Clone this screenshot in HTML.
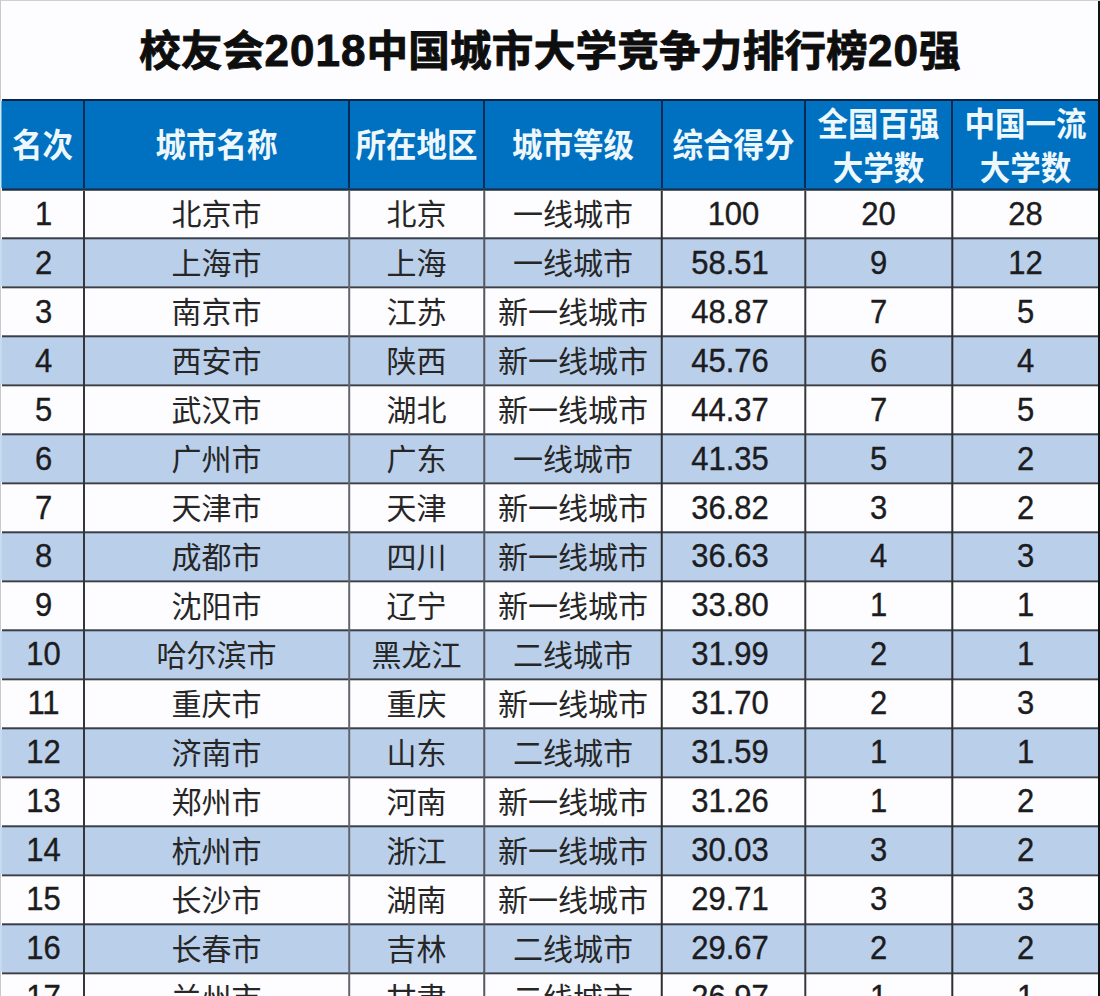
<!DOCTYPE html>
<html lang="zh-CN"><head><meta charset="utf-8"><title>校友会2018中国城市大学竞争力排行榜20强</title><style>
html,body{margin:0;padding:0}
body{width:1100px;height:996px;overflow:hidden;position:relative;background:#fdfcfe;font-family:"Liberation Sans","Noto Sans CJK SC",sans-serif}
div{position:absolute;box-sizing:border-box}
.w{left:0;top:0;width:1100px;height:996px;overflow:hidden}
.t{left:0;width:1100px;top:20px;height:60px;line-height:60px;text-align:center;font-family:"Liberation Sans","Noto Sans CJK SC",sans-serif;font-weight:700;font-size:41.5px;color:#0e0e0e;letter-spacing:0.3px;white-space:nowrap;-webkit-text-stroke:0.9px #0e0e0e}
.h{background:#0070c0}
.lb{background:#bacfea}
.hl{height:2px;background:#383e4a}
.vl{width:2px;background:#383e4a}
.c{display:flex;align-items:center;justify-content:center;white-space:nowrap;font-size:30px;color:#262626;font-family:"Liberation Sans","Noto Sans CJK SC",sans-serif;font-weight:400}
.hc{display:flex;align-items:center;justify-content:center;text-align:center;white-space:nowrap;font-size:30.5px;color:#eef8fc;font-weight:700;font-family:"Liberation Sans","Noto Sans CJK SC",sans-serif;line-height:40px}
.c span,.hc span{position:relative}
.d{font-size:44px;letter-spacing:1px;font-weight:700}
.n{font-size:31px;color:#1c1c1e;-webkit-text-stroke:0.35px #1c1c1e}
.dec{padding-right:7px}
.n span{display:inline-block;transform:scale(1,1.05)}
.hc span{display:inline-block;transform:scaleY(1.09)}
</style></head><body><div class="w">
<div style="left:0;top:0;width:1100px;height:1px;background:#d0d0d4"></div>
<div style="left:0;top:0;width:1px;height:996px;background:#cacace"></div>
<div style="left:0;top:101px;width:1px;height:87px;background:#c4eef8"></div>
<div style="left:1px;top:101px;width:1px;height:87px;background:#6aa8d8"></div>
<div class="t"><span style="position:relative;top:1px">校友会<b class="d">2018</b>中国城市大学竞争力排行榜<b class="d">20</b>强</span></div>
<div class="h" style="left:2px;top:101px;width:1096px;height:87px"></div>
<div class="lb" style="left:0;top:239px;width:1098px;height:47px"></div>
<div style="left:0;top:239px;width:2px;height:47px;background:#c6daf0"></div>
<div class="lb" style="left:0;top:337px;width:1098px;height:47px"></div>
<div style="left:0;top:337px;width:2px;height:47px;background:#c6daf0"></div>
<div class="lb" style="left:0;top:435px;width:1098px;height:47px"></div>
<div style="left:0;top:435px;width:2px;height:47px;background:#c6daf0"></div>
<div class="lb" style="left:0;top:533px;width:1098px;height:47px"></div>
<div style="left:0;top:533px;width:2px;height:47px;background:#c6daf0"></div>
<div class="lb" style="left:0;top:631px;width:1098px;height:47px"></div>
<div style="left:0;top:631px;width:2px;height:47px;background:#c6daf0"></div>
<div class="lb" style="left:0;top:729px;width:1098px;height:47px"></div>
<div style="left:0;top:729px;width:2px;height:47px;background:#c6daf0"></div>
<div class="lb" style="left:0;top:827px;width:1098px;height:47px"></div>
<div style="left:0;top:827px;width:2px;height:47px;background:#c6daf0"></div>
<div class="lb" style="left:0;top:925px;width:1098px;height:47px"></div>
<div style="left:0;top:925px;width:2px;height:47px;background:#c6daf0"></div>
<div class="hc" style="left:2px;top:101px;width:81px;height:87px"><span style="top:0px">名次</span></div>
<div class="hc" style="left:85px;top:101px;width:263px;height:87px"><span style="top:0px">城市名称</span></div>
<div class="hc" style="left:350px;top:101px;width:133px;height:87px"><span style="top:0px">所在地区</span></div>
<div class="hc" style="left:485px;top:101px;width:176px;height:87px"><span style="top:0px">城市等级</span></div>
<div class="hc" style="left:663px;top:101px;width:141px;height:87px"><span style="top:0px">综合得分</span></div>
<div class="hc" style="left:806px;top:101px;width:145px;height:87px"><span style="top:1px">全国百强<br>大学数</span></div>
<div class="hc" style="left:953px;top:101px;width:145px;height:87px"><span style="top:1px">中国一流<br>大学数</span></div>
<div class="c n" style="left:2px;top:190px;width:81px;height:47px"><span style="top:0px;left:1px">1</span></div>
<div class="c" style="left:85px;top:190px;width:263px;height:47px"><span style="top:-2px;left:0px">北京市</span></div>
<div class="c" style="left:350px;top:190px;width:133px;height:47px"><span style="top:-2px;left:0px">北京</span></div>
<div class="c" style="left:485px;top:190px;width:176px;height:47px"><span style="top:-2px;left:0px">一线城市</span></div>
<div class="c n" style="left:663px;top:190px;width:141px;height:47px"><span style="top:0px;left:0px">100</span></div>
<div class="c n" style="left:806px;top:190px;width:145px;height:47px"><span style="top:0px;left:0px">20</span></div>
<div class="c n" style="left:953px;top:190px;width:145px;height:47px"><span style="top:0px;left:0px">28</span></div>
<div class="c n" style="left:2px;top:239px;width:81px;height:47px"><span style="top:0px;left:1px">2</span></div>
<div class="c" style="left:85px;top:239px;width:263px;height:47px"><span style="top:-2px;left:0px">上海市</span></div>
<div class="c" style="left:350px;top:239px;width:133px;height:47px"><span style="top:-2px;left:0px">上海</span></div>
<div class="c" style="left:485px;top:239px;width:176px;height:47px"><span style="top:-2px;left:0px">一线城市</span></div>
<div class="c n dec" style="left:663px;top:239px;width:141px;height:47px"><span style="top:0px;left:0px">58.51</span></div>
<div class="c n" style="left:806px;top:239px;width:145px;height:47px"><span style="top:0px;left:0px">9</span></div>
<div class="c n" style="left:953px;top:239px;width:145px;height:47px"><span style="top:0px;left:0px">12</span></div>
<div class="c n" style="left:2px;top:288px;width:81px;height:47px"><span style="top:0px;left:1px">3</span></div>
<div class="c" style="left:85px;top:288px;width:263px;height:47px"><span style="top:-2px;left:0px">南京市</span></div>
<div class="c" style="left:350px;top:288px;width:133px;height:47px"><span style="top:-2px;left:0px">江苏</span></div>
<div class="c" style="left:485px;top:288px;width:176px;height:47px"><span style="top:-2px;left:0px">新一线城市</span></div>
<div class="c n dec" style="left:663px;top:288px;width:141px;height:47px"><span style="top:0px;left:0px">48.87</span></div>
<div class="c n" style="left:806px;top:288px;width:145px;height:47px"><span style="top:0px;left:0px">7</span></div>
<div class="c n" style="left:953px;top:288px;width:145px;height:47px"><span style="top:0px;left:0px">5</span></div>
<div class="c n" style="left:2px;top:337px;width:81px;height:47px"><span style="top:0px;left:1px">4</span></div>
<div class="c" style="left:85px;top:337px;width:263px;height:47px"><span style="top:-2px;left:0px">西安市</span></div>
<div class="c" style="left:350px;top:337px;width:133px;height:47px"><span style="top:-2px;left:0px">陕西</span></div>
<div class="c" style="left:485px;top:337px;width:176px;height:47px"><span style="top:-2px;left:0px">新一线城市</span></div>
<div class="c n dec" style="left:663px;top:337px;width:141px;height:47px"><span style="top:0px;left:0px">45.76</span></div>
<div class="c n" style="left:806px;top:337px;width:145px;height:47px"><span style="top:0px;left:0px">6</span></div>
<div class="c n" style="left:953px;top:337px;width:145px;height:47px"><span style="top:0px;left:0px">4</span></div>
<div class="c n" style="left:2px;top:386px;width:81px;height:47px"><span style="top:0px;left:1px">5</span></div>
<div class="c" style="left:85px;top:386px;width:263px;height:47px"><span style="top:-2px;left:0px">武汉市</span></div>
<div class="c" style="left:350px;top:386px;width:133px;height:47px"><span style="top:-2px;left:0px">湖北</span></div>
<div class="c" style="left:485px;top:386px;width:176px;height:47px"><span style="top:-2px;left:0px">新一线城市</span></div>
<div class="c n dec" style="left:663px;top:386px;width:141px;height:47px"><span style="top:0px;left:0px">44.37</span></div>
<div class="c n" style="left:806px;top:386px;width:145px;height:47px"><span style="top:0px;left:0px">7</span></div>
<div class="c n" style="left:953px;top:386px;width:145px;height:47px"><span style="top:0px;left:0px">5</span></div>
<div class="c n" style="left:2px;top:435px;width:81px;height:47px"><span style="top:0px;left:1px">6</span></div>
<div class="c" style="left:85px;top:435px;width:263px;height:47px"><span style="top:-2px;left:0px">广州市</span></div>
<div class="c" style="left:350px;top:435px;width:133px;height:47px"><span style="top:-2px;left:0px">广东</span></div>
<div class="c" style="left:485px;top:435px;width:176px;height:47px"><span style="top:-2px;left:0px">一线城市</span></div>
<div class="c n dec" style="left:663px;top:435px;width:141px;height:47px"><span style="top:0px;left:0px">41.35</span></div>
<div class="c n" style="left:806px;top:435px;width:145px;height:47px"><span style="top:0px;left:0px">5</span></div>
<div class="c n" style="left:953px;top:435px;width:145px;height:47px"><span style="top:0px;left:0px">2</span></div>
<div class="c n" style="left:2px;top:484px;width:81px;height:47px"><span style="top:0px;left:1px">7</span></div>
<div class="c" style="left:85px;top:484px;width:263px;height:47px"><span style="top:-2px;left:0px">天津市</span></div>
<div class="c" style="left:350px;top:484px;width:133px;height:47px"><span style="top:-2px;left:0px">天津</span></div>
<div class="c" style="left:485px;top:484px;width:176px;height:47px"><span style="top:-2px;left:0px">新一线城市</span></div>
<div class="c n dec" style="left:663px;top:484px;width:141px;height:47px"><span style="top:0px;left:0px">36.82</span></div>
<div class="c n" style="left:806px;top:484px;width:145px;height:47px"><span style="top:0px;left:0px">3</span></div>
<div class="c n" style="left:953px;top:484px;width:145px;height:47px"><span style="top:0px;left:0px">2</span></div>
<div class="c n" style="left:2px;top:533px;width:81px;height:47px"><span style="top:0px;left:1px">8</span></div>
<div class="c" style="left:85px;top:533px;width:263px;height:47px"><span style="top:-2px;left:0px">成都市</span></div>
<div class="c" style="left:350px;top:533px;width:133px;height:47px"><span style="top:-2px;left:0px">四川</span></div>
<div class="c" style="left:485px;top:533px;width:176px;height:47px"><span style="top:-2px;left:0px">新一线城市</span></div>
<div class="c n dec" style="left:663px;top:533px;width:141px;height:47px"><span style="top:0px;left:0px">36.63</span></div>
<div class="c n" style="left:806px;top:533px;width:145px;height:47px"><span style="top:0px;left:0px">4</span></div>
<div class="c n" style="left:953px;top:533px;width:145px;height:47px"><span style="top:0px;left:0px">3</span></div>
<div class="c n" style="left:2px;top:582px;width:81px;height:47px"><span style="top:0px;left:1px">9</span></div>
<div class="c" style="left:85px;top:582px;width:263px;height:47px"><span style="top:-2px;left:0px">沈阳市</span></div>
<div class="c" style="left:350px;top:582px;width:133px;height:47px"><span style="top:-2px;left:0px">辽宁</span></div>
<div class="c" style="left:485px;top:582px;width:176px;height:47px"><span style="top:-2px;left:0px">新一线城市</span></div>
<div class="c n dec" style="left:663px;top:582px;width:141px;height:47px"><span style="top:0px;left:0px">33.80</span></div>
<div class="c n" style="left:806px;top:582px;width:145px;height:47px"><span style="top:0px;left:0px">1</span></div>
<div class="c n" style="left:953px;top:582px;width:145px;height:47px"><span style="top:0px;left:0px">1</span></div>
<div class="c n" style="left:2px;top:631px;width:81px;height:47px"><span style="top:0px;left:1px">10</span></div>
<div class="c" style="left:85px;top:631px;width:263px;height:47px"><span style="top:-2px;left:0px">哈尔滨市</span></div>
<div class="c" style="left:350px;top:631px;width:133px;height:47px"><span style="top:-2px;left:0px">黑龙江</span></div>
<div class="c" style="left:485px;top:631px;width:176px;height:47px"><span style="top:-2px;left:0px">二线城市</span></div>
<div class="c n dec" style="left:663px;top:631px;width:141px;height:47px"><span style="top:0px;left:0px">31.99</span></div>
<div class="c n" style="left:806px;top:631px;width:145px;height:47px"><span style="top:0px;left:0px">2</span></div>
<div class="c n" style="left:953px;top:631px;width:145px;height:47px"><span style="top:0px;left:0px">1</span></div>
<div class="c n" style="left:2px;top:680px;width:81px;height:47px"><span style="top:0px;left:1px">11</span></div>
<div class="c" style="left:85px;top:680px;width:263px;height:47px"><span style="top:-2px;left:0px">重庆市</span></div>
<div class="c" style="left:350px;top:680px;width:133px;height:47px"><span style="top:-2px;left:0px">重庆</span></div>
<div class="c" style="left:485px;top:680px;width:176px;height:47px"><span style="top:-2px;left:0px">新一线城市</span></div>
<div class="c n dec" style="left:663px;top:680px;width:141px;height:47px"><span style="top:0px;left:0px">31.70</span></div>
<div class="c n" style="left:806px;top:680px;width:145px;height:47px"><span style="top:0px;left:0px">2</span></div>
<div class="c n" style="left:953px;top:680px;width:145px;height:47px"><span style="top:0px;left:0px">3</span></div>
<div class="c n" style="left:2px;top:729px;width:81px;height:47px"><span style="top:0px;left:1px">12</span></div>
<div class="c" style="left:85px;top:729px;width:263px;height:47px"><span style="top:-2px;left:0px">济南市</span></div>
<div class="c" style="left:350px;top:729px;width:133px;height:47px"><span style="top:-2px;left:0px">山东</span></div>
<div class="c" style="left:485px;top:729px;width:176px;height:47px"><span style="top:-2px;left:0px">二线城市</span></div>
<div class="c n dec" style="left:663px;top:729px;width:141px;height:47px"><span style="top:0px;left:0px">31.59</span></div>
<div class="c n" style="left:806px;top:729px;width:145px;height:47px"><span style="top:0px;left:0px">1</span></div>
<div class="c n" style="left:953px;top:729px;width:145px;height:47px"><span style="top:0px;left:0px">1</span></div>
<div class="c n" style="left:2px;top:778px;width:81px;height:47px"><span style="top:0px;left:1px">13</span></div>
<div class="c" style="left:85px;top:778px;width:263px;height:47px"><span style="top:-2px;left:0px">郑州市</span></div>
<div class="c" style="left:350px;top:778px;width:133px;height:47px"><span style="top:-2px;left:0px">河南</span></div>
<div class="c" style="left:485px;top:778px;width:176px;height:47px"><span style="top:-2px;left:0px">新一线城市</span></div>
<div class="c n dec" style="left:663px;top:778px;width:141px;height:47px"><span style="top:0px;left:0px">31.26</span></div>
<div class="c n" style="left:806px;top:778px;width:145px;height:47px"><span style="top:0px;left:0px">1</span></div>
<div class="c n" style="left:953px;top:778px;width:145px;height:47px"><span style="top:0px;left:0px">2</span></div>
<div class="c n" style="left:2px;top:827px;width:81px;height:47px"><span style="top:0px;left:1px">14</span></div>
<div class="c" style="left:85px;top:827px;width:263px;height:47px"><span style="top:-2px;left:0px">杭州市</span></div>
<div class="c" style="left:350px;top:827px;width:133px;height:47px"><span style="top:-2px;left:0px">浙江</span></div>
<div class="c" style="left:485px;top:827px;width:176px;height:47px"><span style="top:-2px;left:0px">新一线城市</span></div>
<div class="c n dec" style="left:663px;top:827px;width:141px;height:47px"><span style="top:0px;left:0px">30.03</span></div>
<div class="c n" style="left:806px;top:827px;width:145px;height:47px"><span style="top:0px;left:0px">3</span></div>
<div class="c n" style="left:953px;top:827px;width:145px;height:47px"><span style="top:0px;left:0px">2</span></div>
<div class="c n" style="left:2px;top:876px;width:81px;height:47px"><span style="top:0px;left:1px">15</span></div>
<div class="c" style="left:85px;top:876px;width:263px;height:47px"><span style="top:-2px;left:0px">长沙市</span></div>
<div class="c" style="left:350px;top:876px;width:133px;height:47px"><span style="top:-2px;left:0px">湖南</span></div>
<div class="c" style="left:485px;top:876px;width:176px;height:47px"><span style="top:-2px;left:0px">新一线城市</span></div>
<div class="c n dec" style="left:663px;top:876px;width:141px;height:47px"><span style="top:0px;left:0px">29.71</span></div>
<div class="c n" style="left:806px;top:876px;width:145px;height:47px"><span style="top:0px;left:0px">3</span></div>
<div class="c n" style="left:953px;top:876px;width:145px;height:47px"><span style="top:0px;left:0px">3</span></div>
<div class="c n" style="left:2px;top:925px;width:81px;height:47px"><span style="top:0px;left:1px">16</span></div>
<div class="c" style="left:85px;top:925px;width:263px;height:47px"><span style="top:-2px;left:0px">长春市</span></div>
<div class="c" style="left:350px;top:925px;width:133px;height:47px"><span style="top:-2px;left:0px">吉林</span></div>
<div class="c" style="left:485px;top:925px;width:176px;height:47px"><span style="top:-2px;left:0px">二线城市</span></div>
<div class="c n dec" style="left:663px;top:925px;width:141px;height:47px"><span style="top:0px;left:0px">29.67</span></div>
<div class="c n" style="left:806px;top:925px;width:145px;height:47px"><span style="top:0px;left:0px">2</span></div>
<div class="c n" style="left:953px;top:925px;width:145px;height:47px"><span style="top:0px;left:0px">2</span></div>
<div class="c n" style="left:2px;top:974px;width:81px;height:47px"><span style="top:0px;left:1px">17</span></div>
<div class="c" style="left:85px;top:974px;width:263px;height:47px"><span style="top:-2px;left:0px">兰州市</span></div>
<div class="c" style="left:350px;top:974px;width:133px;height:47px"><span style="top:-2px;left:0px">甘肃</span></div>
<div class="c" style="left:485px;top:974px;width:176px;height:47px"><span style="top:-2px;left:0px">二线城市</span></div>
<div class="c n dec" style="left:663px;top:974px;width:141px;height:47px"><span style="top:0px;left:0px">26.97</span></div>
<div class="c n" style="left:806px;top:974px;width:145px;height:47px"><span style="top:0px;left:0px">1</span></div>
<div class="c n" style="left:953px;top:974px;width:145px;height:47px"><span style="top:0px;left:0px">1</span></div>
<div style="left:2px;top:99px;width:1098px;height:2px;background:#0a2548"></div>
<div style="left:2px;top:188px;width:1098px;height:1px;background:#14477a"></div>
<div style="left:2px;top:189px;width:1098px;height:1px;background:#172f47"></div>
<div style="left:2px;top:190px;width:1098px;height:1px;background:#56646e"></div>
<div style="left:2px;top:237px;width:1096px;height:1px;background:#383e4a;opacity:0.70"></div>
<div style="left:2px;top:238px;width:1096px;height:1px;background:#383e4a;opacity:1.00"></div>
<div style="left:2px;top:239px;width:1096px;height:1px;background:#383e4a;opacity:0.30"></div>
<div style="left:2px;top:286px;width:1096px;height:1px;background:#383e4a;opacity:0.70"></div>
<div style="left:2px;top:287px;width:1096px;height:1px;background:#383e4a;opacity:1.00"></div>
<div style="left:2px;top:288px;width:1096px;height:1px;background:#383e4a;opacity:0.30"></div>
<div style="left:2px;top:335px;width:1096px;height:1px;background:#383e4a;opacity:0.70"></div>
<div style="left:2px;top:336px;width:1096px;height:1px;background:#383e4a;opacity:1.00"></div>
<div style="left:2px;top:337px;width:1096px;height:1px;background:#383e4a;opacity:0.30"></div>
<div style="left:2px;top:384px;width:1096px;height:1px;background:#383e4a;opacity:0.70"></div>
<div style="left:2px;top:385px;width:1096px;height:1px;background:#383e4a;opacity:1.00"></div>
<div style="left:2px;top:386px;width:1096px;height:1px;background:#383e4a;opacity:0.30"></div>
<div style="left:2px;top:433px;width:1096px;height:1px;background:#383e4a;opacity:0.70"></div>
<div style="left:2px;top:434px;width:1096px;height:1px;background:#383e4a;opacity:1.00"></div>
<div style="left:2px;top:435px;width:1096px;height:1px;background:#383e4a;opacity:0.30"></div>
<div style="left:2px;top:482px;width:1096px;height:1px;background:#383e4a;opacity:0.70"></div>
<div style="left:2px;top:483px;width:1096px;height:1px;background:#383e4a;opacity:1.00"></div>
<div style="left:2px;top:484px;width:1096px;height:1px;background:#383e4a;opacity:0.30"></div>
<div style="left:2px;top:531px;width:1096px;height:1px;background:#383e4a;opacity:0.70"></div>
<div style="left:2px;top:532px;width:1096px;height:1px;background:#383e4a;opacity:1.00"></div>
<div style="left:2px;top:533px;width:1096px;height:1px;background:#383e4a;opacity:0.30"></div>
<div style="left:2px;top:580px;width:1096px;height:1px;background:#383e4a;opacity:0.70"></div>
<div style="left:2px;top:581px;width:1096px;height:1px;background:#383e4a;opacity:1.00"></div>
<div style="left:2px;top:582px;width:1096px;height:1px;background:#383e4a;opacity:0.30"></div>
<div style="left:2px;top:629px;width:1096px;height:1px;background:#383e4a;opacity:0.70"></div>
<div style="left:2px;top:630px;width:1096px;height:1px;background:#383e4a;opacity:1.00"></div>
<div style="left:2px;top:631px;width:1096px;height:1px;background:#383e4a;opacity:0.30"></div>
<div style="left:2px;top:678px;width:1096px;height:1px;background:#383e4a;opacity:0.70"></div>
<div style="left:2px;top:679px;width:1096px;height:1px;background:#383e4a;opacity:1.00"></div>
<div style="left:2px;top:680px;width:1096px;height:1px;background:#383e4a;opacity:0.30"></div>
<div style="left:2px;top:727px;width:1096px;height:1px;background:#383e4a;opacity:0.70"></div>
<div style="left:2px;top:728px;width:1096px;height:1px;background:#383e4a;opacity:1.00"></div>
<div style="left:2px;top:729px;width:1096px;height:1px;background:#383e4a;opacity:0.30"></div>
<div style="left:2px;top:776px;width:1096px;height:1px;background:#383e4a;opacity:0.70"></div>
<div style="left:2px;top:777px;width:1096px;height:1px;background:#383e4a;opacity:1.00"></div>
<div style="left:2px;top:778px;width:1096px;height:1px;background:#383e4a;opacity:0.30"></div>
<div style="left:2px;top:825px;width:1096px;height:1px;background:#383e4a;opacity:0.70"></div>
<div style="left:2px;top:826px;width:1096px;height:1px;background:#383e4a;opacity:1.00"></div>
<div style="left:2px;top:827px;width:1096px;height:1px;background:#383e4a;opacity:0.30"></div>
<div style="left:2px;top:874px;width:1096px;height:1px;background:#383e4a;opacity:0.70"></div>
<div style="left:2px;top:875px;width:1096px;height:1px;background:#383e4a;opacity:1.00"></div>
<div style="left:2px;top:876px;width:1096px;height:1px;background:#383e4a;opacity:0.30"></div>
<div style="left:2px;top:923px;width:1096px;height:1px;background:#383e4a;opacity:0.70"></div>
<div style="left:2px;top:924px;width:1096px;height:1px;background:#383e4a;opacity:1.00"></div>
<div style="left:2px;top:925px;width:1096px;height:1px;background:#383e4a;opacity:0.30"></div>
<div style="left:2px;top:972px;width:1096px;height:1px;background:#383e4a;opacity:0.70"></div>
<div style="left:2px;top:973px;width:1096px;height:1px;background:#383e4a;opacity:1.00"></div>
<div style="left:2px;top:974px;width:1096px;height:1px;background:#383e4a;opacity:0.30"></div>
<div style="left:83px;top:99px;width:2px;height:89px;background:#0a2a55"></div>
<div style="left:348px;top:99px;width:2px;height:89px;background:#0a2a55"></div>
<div style="left:483px;top:99px;width:2px;height:89px;background:#0a2a55"></div>
<div style="left:661px;top:99px;width:2px;height:89px;background:#0a2a55"></div>
<div style="left:804px;top:99px;width:2px;height:89px;background:#0a2a55"></div>
<div style="left:951px;top:99px;width:2px;height:89px;background:#0a2a55"></div>
<div style="left:83px;top:191px;width:1px;height:805px;background:#34363c;opacity:1.00"></div>
<div style="left:84px;top:191px;width:1px;height:805px;background:#34363c;opacity:1.00"></div>
<div style="left:348px;top:191px;width:1px;height:805px;background:#62656c;opacity:0.80"></div>
<div style="left:349px;top:191px;width:1px;height:805px;background:#62656c;opacity:1.00"></div>
<div style="left:350px;top:191px;width:1px;height:805px;background:#62656c;opacity:0.20"></div>
<div style="left:483px;top:191px;width:1px;height:805px;background:#55575e;opacity:0.75"></div>
<div style="left:484px;top:191px;width:1px;height:805px;background:#55575e;opacity:1.00"></div>
<div style="left:485px;top:191px;width:1px;height:805px;background:#55575e;opacity:0.25"></div>
<div style="left:660px;top:191px;width:1px;height:805px;background:#2c2e30;opacity:0.24"></div>
<div style="left:661px;top:191px;width:1px;height:805px;background:#2c2e30;opacity:1.00"></div>
<div style="left:662px;top:191px;width:1px;height:805px;background:#2c2e30;opacity:0.76"></div>
<div style="left:804px;top:191px;width:1px;height:805px;background:#36383c;opacity:0.70"></div>
<div style="left:805px;top:191px;width:1px;height:805px;background:#36383c;opacity:1.00"></div>
<div style="left:806px;top:191px;width:1px;height:805px;background:#36383c;opacity:0.30"></div>
<div style="left:951px;top:191px;width:1px;height:805px;background:#2c2e32;opacity:0.70"></div>
<div style="left:952px;top:191px;width:1px;height:805px;background:#2c2e32;opacity:1.00"></div>
<div style="left:953px;top:191px;width:1px;height:805px;background:#2c2e32;opacity:0.30"></div>
<div style="left:1098px;top:1px;width:2px;height:995px;background:#111"></div>
</div></body></html>
